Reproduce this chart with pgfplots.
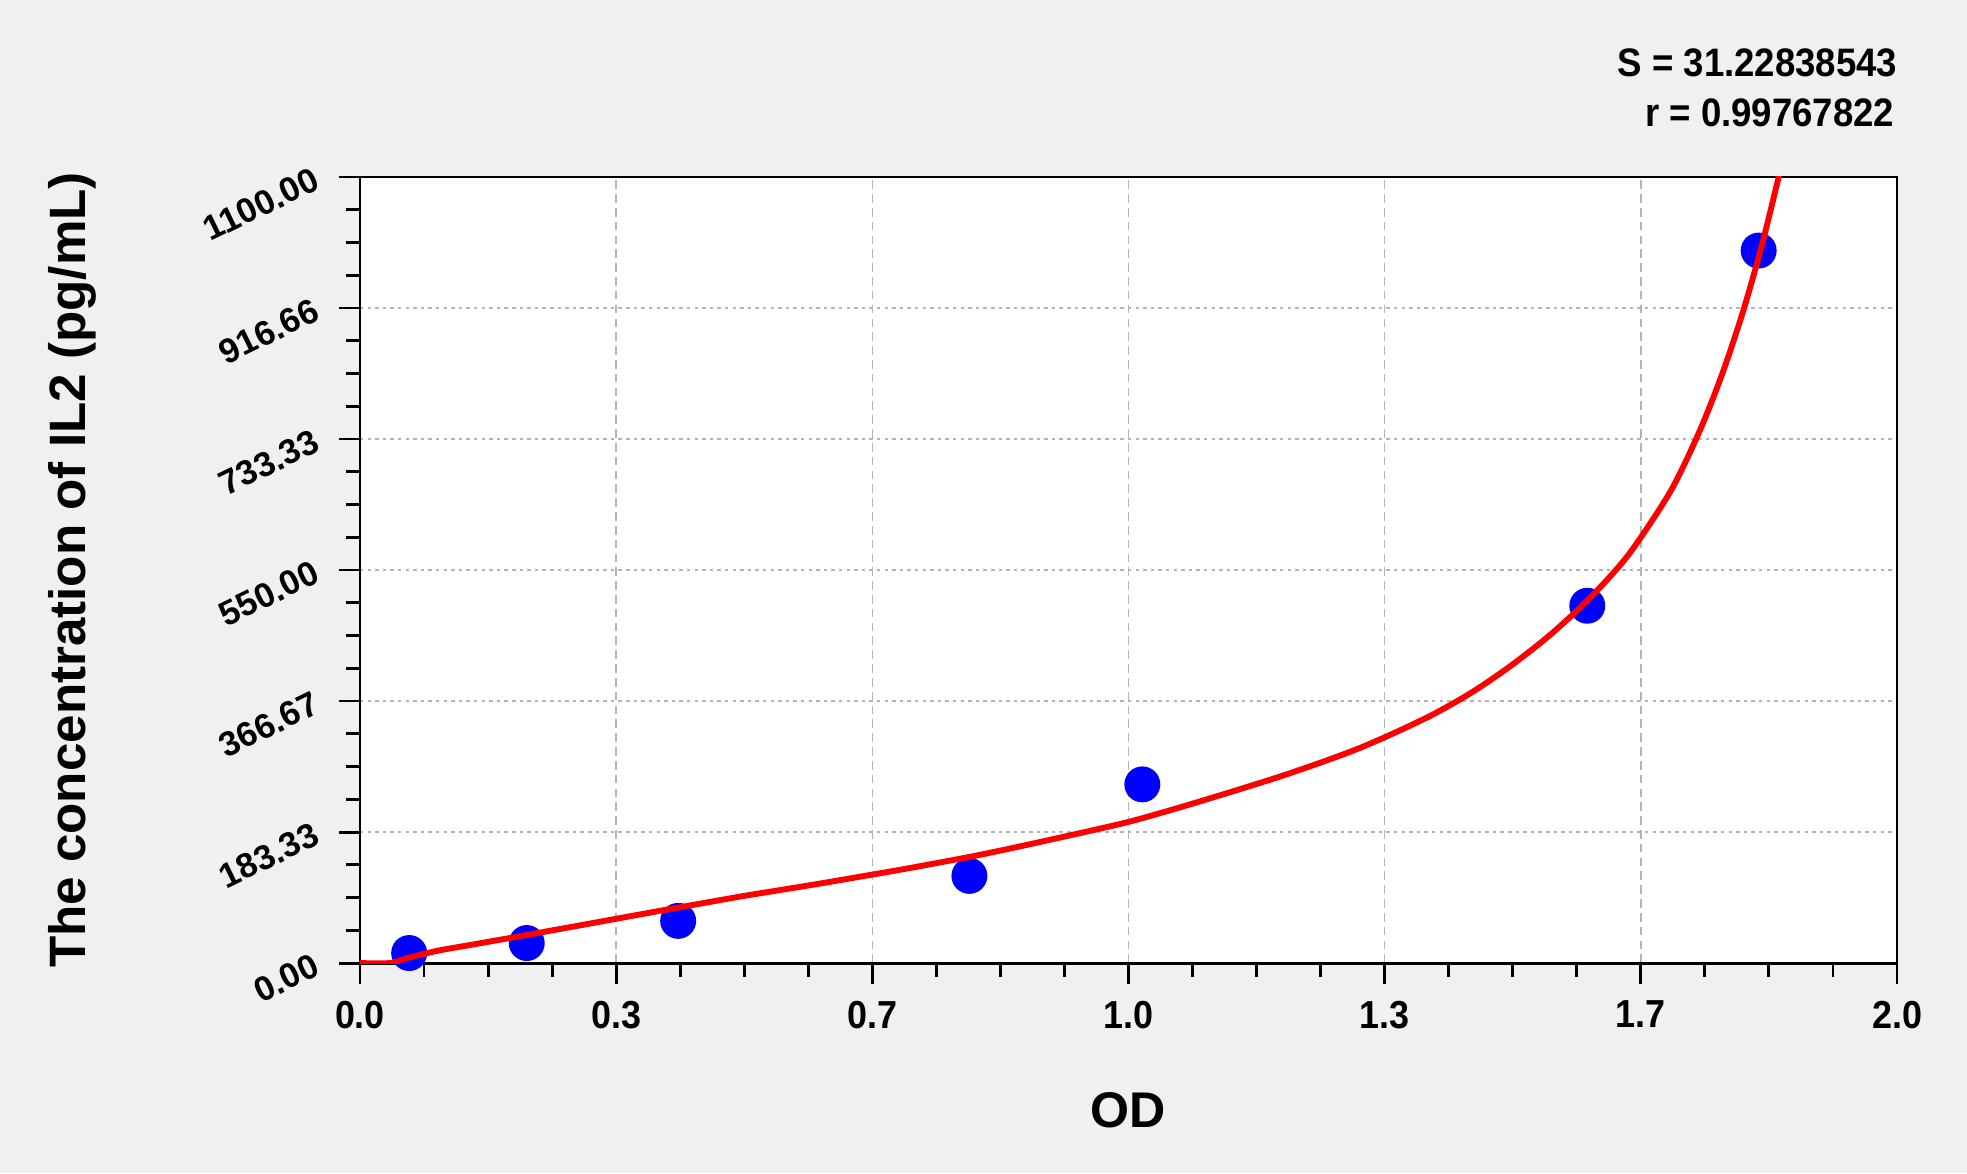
\documentclass[border=0pt]{standalone}
\usepackage{fontspec}
\setmainfont{Liberation Sans}
\newfontfamily\narrowfont{Liberation Sans}[FakeStretch=0.92]
\usepackage{pgfplots}
\pgfplotsset{compat=1.18}
\definecolor{figbg}{RGB}{240,240,240}
\definecolor{ptblue}{RGB}{0,0,255}
\definecolor{fitred}{RGB}{255,0,0}
\definecolor{gridgray}{RGB}{180,180,180}
\begin{document}
\begin{tikzpicture}
\fill[figbg] (-3.661,-2.136) rectangle (16.343,9.794);
\useasboundingbox (-3.661,-2.136) rectangle (16.343,9.794);
\begin{axis}[
  at={(0,0)}, anchor=south west,
  scale only axis, width=15.631cm, height=7.994cm,
  xmin=0, xmax=2, ymin=0, ymax=1100,
  clip mode=individual,
  axis background/.style={fill=white},
  axis line style={black, line width=0.85pt},
  xtick={0,0.333333,0.666667,1,1.333333,1.666667,2},
  xticklabels={0.0,0.3,0.7,1.0,1.3,1.7,2.0},
  ytick={0,183.333,366.667,550,733.333,916.667,1100},
  yticklabels={0.00,183.33,366.67,550.00,733.33,916.66,1100.00},
  minor xtick={0.083333,0.166667,0.25,0.416667,0.5,0.583333,0.75,0.833333,0.916667,1.083333,1.166667,1.25,1.416667,1.5,1.583333,1.75,1.833333,1.916667},
  minor ytick={45.833,91.667,137.5,229.167,275,320.833,412.5,458.333,504.167,595.833,641.667,687.5,779.167,825,870.833,962.5,1008.333,1054.167},
  xtick pos=bottom, ytick pos=left,
  tick align=outside,
  major tick length=0.21cm, minor tick length=0.14cm,
  every tick/.style={black, line width=0.85pt},
  xmajorgrids, ymajorgrids,
  x grid style={gridgray, line width=0.45pt, dash pattern=on 2.5pt off 1.5pt},
  y grid style={gridgray, line width=0.45pt, dash pattern=on 1pt off 1.2pt},
  xticklabel style={font=\narrowfont\bfseries\fontsize{11.3}{13}\selectfont, yshift=-0.167cm, anchor=north, inner sep=0pt},
  yticklabel style={font=\bfseries\fontsize{10}{12}\selectfont, xshift=-0.228cm, anchor=east, rotate=26, inner sep=0pt},
  xlabel={OD},
  xlabel style={font=\bfseries\fontsize{14.5}{17}\selectfont, at={(axis description cs:0.5,-0.18702)}, anchor=center},
  ylabel={The concentration of IL2 (pg/mL)},
  ylabel style={font=\bfseries\fontsize{14.8}{17}\selectfont, at={(axis description cs:-0.18738,0.5)}, anchor=center},
]
\addplot[only marks, mark=*, mark size=5pt, color=ptblue, mark options={fill=ptblue, draw=ptblue}] coordinates {
  (0.064,14) (0.217,28) (0.414,59) (0.793,122) (1.018,250) (1.597,500) (1.820,997)
};
\addplot[fitred, line width=1.7pt, smooth, tension=0.5] coordinates {
  (0,0) (0.039,0) (0.06,6.5) (0.1,17) (0.15,26.5) (0.2,36) (0.25,45.7) (0.3,55.4)
  (0.35,65.2) (0.4,75) (0.45,84.5) (0.5,94) (0.55,102.7) (0.6,111.5) (0.65,120.7)
  (0.7,130) (0.75,139.8) (0.8,150) (0.85,161.2) (0.9,173) (0.95,185) (1.0,197.5)
  (1.05,212.5) (1.1,228.5) (1.15,245) (1.2,262) (1.25,280.5) (1.3,300.5) (1.35,324)
  (1.4,350) (1.45,381) (1.5,418) (1.55,460.5) (1.6,510.5) (1.65,570.5) (1.7,650.5)
  (1.725,701.75) (1.75,761.75) (1.775,831.75) (1.8,913) (1.825,1008) (1.85,1118)
};
\end{axis}
\node[anchor=east, inner sep=0pt, font=\narrowfont\bfseries\fontsize{11.5}{13}\selectfont] at (15.64,9.153) {S = 31.22838543};
\node[anchor=east, inner sep=0pt, font=\narrowfont\bfseries\fontsize{11.5}{13}\selectfont] at (15.61,8.645) {r = 0.99767822};
\end{tikzpicture}
\end{document}
